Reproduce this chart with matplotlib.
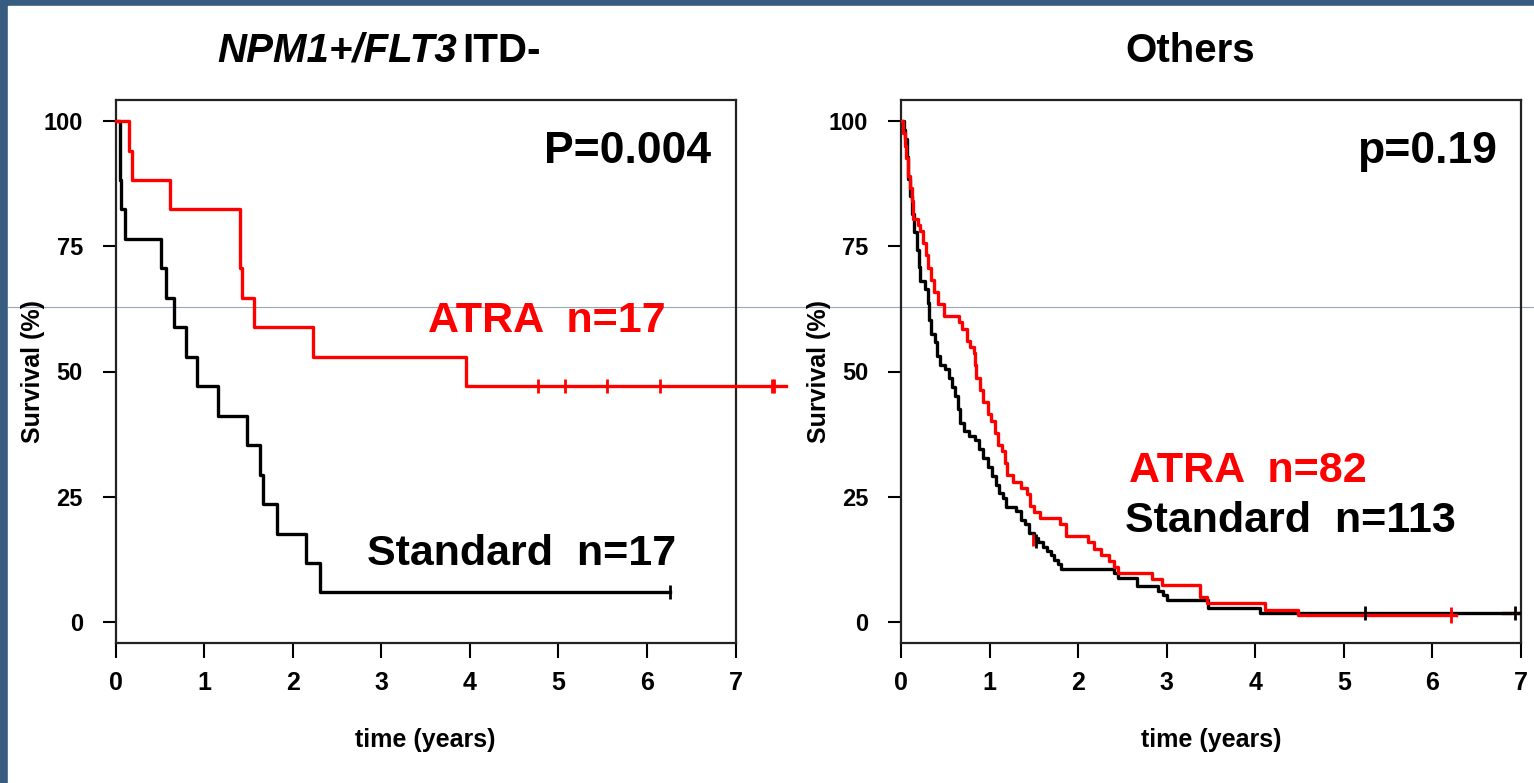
import matplotlib
matplotlib.use("Agg")
import matplotlib.pyplot as plt
from matplotlib.lines import Line2D
from matplotlib.patches import Rectangle

plt.rcParams["font.family"] = ["Liberation Sans", "DejaVu Sans"]

# ---- values ----
years = [0, 1, 2, 3, 4, 5, 6, 7]
surv_ticks = [0, 25, 50, 75, 100]

# NPM1+/FLT3 ITD- panel
npm_atra_t = [0.00, 0.15, 0.19, 0.62, 1.41, 1.43, 1.56, 2.23, 3.96, 7.57]
npm_atra_s = [100, 94.1, 88.2, 82.4, 70.6, 64.7, 58.8, 52.9, 47.1, 47.1]
npm_atra_cens_t = [4.77, 5.08, 5.55, 6.15, 7.41, 7.44]
npm_atra_cens_s = [47.1, 47.1, 47.1, 47.1, 47.1, 47.1]

npm_std_t = [0.00, 0.05, 0.06, 0.11, 0.51, 0.57, 0.66, 0.80, 0.92, 1.16,
             1.48, 1.63, 1.67, 1.82, 2.15, 2.31, 6.26]
npm_std_s = [100, 88.2, 82.4, 76.5, 70.6, 64.7, 58.8, 52.9, 47.1, 41.2,
             35.3, 29.4, 23.5, 17.6, 11.8, 5.9, 5.9]
npm_std_cens_t = [6.26]
npm_std_cens_s = [5.9]

# Others panel
oth_atra_t = [0.00, 0.02, 0.04, 0.06, 0.08, 0.10, 0.12, 0.14, 0.19, 0.22,
              0.25, 0.28, 0.31, 0.34, 0.37, 0.42, 0.48, 0.66, 0.69, 0.74,
              0.78, 0.82, 0.84, 0.85, 0.89, 0.93, 0.98, 1.02, 1.06, 1.10,
              1.14, 1.17, 1.20, 1.27, 1.35, 1.42, 1.46, 1.50, 1.57, 1.79,
              1.86, 2.11, 2.18, 2.26, 2.35, 2.41, 2.45, 2.83, 2.95, 3.38,
              3.45, 4.11, 4.48, 6.27]
oth_atra_s = [100, 97.6, 95.1, 92.7, 89.0, 86.6, 84.1, 80.5, 79.3, 78.0,
              75.6, 73.2, 70.7, 68.3, 65.9, 63.4, 61.0, 59.8, 58.5, 56.1,
              54.9, 53.7, 51.2, 48.8, 46.3, 43.9, 41.5, 40.2, 37.8, 35.4,
              34.1, 31.7, 29.3, 28.0, 26.8, 25.6, 23.2, 22.0, 20.7, 19.5,
              17.1, 15.9, 14.6, 13.4, 12.2, 11.0, 9.8, 8.5, 7.3, 4.9,
              3.7, 2.4, 1.4, 1.4]
oth_atra_cens_t = [1.49, 6.21]
oth_atra_cens_s = [16.4, 1.4]
oth_atra_tail_t = [6.80, 7.00]
oth_atra_tail_s = [1.7, 1.7]

oth_std_t = [0.00, 0.03, 0.05, 0.07, 0.08, 0.10, 0.12, 0.15, 0.18, 0.20,
             0.22, 0.27, 0.30, 0.32, 0.34, 0.38, 0.41, 0.44, 0.50, 0.54,
             0.58, 0.61, 0.64, 0.67, 0.71, 0.77, 0.84, 0.88, 0.93, 0.98,
             1.03, 1.07, 1.11, 1.15, 1.19, 1.30, 1.35, 1.40, 1.45, 1.50,
             1.55, 1.60, 1.65, 1.69, 1.73, 1.77, 1.81, 2.40, 2.45, 2.66,
             2.90, 2.96, 3.00, 3.47, 4.05, 7.00]
oth_std_s = [100, 98.2, 96.5, 92.9, 88.5, 85.0, 81.4, 77.9, 74.3, 70.8,
             68.1, 66.4, 63.7, 60.2, 57.5, 55.8, 53.1, 51.3, 50.4, 48.7,
             46.9, 45.1, 42.5, 39.8, 38.1, 37.2, 36.3, 34.5, 32.7, 31.0,
             29.2, 27.4, 25.7, 24.8, 23.0, 22.1, 20.4, 19.5, 17.7, 16.8,
             15.9, 15.0, 14.2, 13.3, 12.4, 11.5, 10.6, 9.7, 8.8, 7.1,
             6.2, 5.3, 4.4, 2.7, 1.8, 1.8]
oth_std_cens_t = [1.52, 5.24, 6.93]
oth_std_cens_s = [16.2, 1.8, 1.8]

RED = "#FF0000"
BLACK = "#000000"
BORDER = "#365D80"
W, H = 1534, 783


def style_axes(ax):
    ax.set_facecolor("none")
    ax.set_xlim(0, 7)
    ax.set_ylim(-4.2, 104.2)
    ax.set_xticks(years)
    ax.set_yticks(surv_ticks)
    ax.tick_params(axis="x", direction="out", length=10.5, width=1.5, pad=10, labelsize=18)
    ax.tick_params(axis="y", direction="out", length=9.5, width=1.5, pad=14, labelsize=17)
    for lab in ax.get_xticklabels() + ax.get_yticklabels():
        lab.set_fontweight("bold")
    for sp in ax.spines.values():
        sp.set_linewidth(1.6)
        sp.set_color("#222222")
    ax.set_xlabel("time (years)", fontsize=18, fontweight="bold")
    ax.xaxis.set_label_coords(0.5, -0.179)
    ax.xaxis.label.set_va("center")
    ax.set_ylabel("Survival (%)", fontsize=18, fontweight="bold")
    ax.yaxis.set_label_coords(-0.133, 0.5)
    ax.yaxis.label.set_va("center")


def km(ax, t, s, color, clip=True):
    ax.step(t, s, where="post", color=color, lw=2.4, clip_on=clip, zorder=3)


def cens(ax, t, s, color, ms=10):
    ax.plot(t, s, linestyle="none", marker="|", ms=ms, mew=2, color=color,
            clip_on=False, zorder=4)


fig = plt.figure(figsize=(W / 100, H / 100), dpi=100)
fig.patches.append(Rectangle((0, 0), 1, 1, transform=fig.transFigure,
                             color=BORDER, zorder=-3))
fig.patches.append(Rectangle((8 / W, 0), 1, 1 - 6 / H, transform=fig.transFigure,
                             color="white", zorder=-2))
fig.add_artist(Line2D([8 / W, 1], [1 - 307 / H] * 2, transform=fig.transFigure,
                      color="#9AA6B2", lw=0.8, zorder=-1))

bottom, height = (H - 643) / H, 543 / H
ax1 = fig.add_axes([115.5 / W, bottom, 620 / W, height])
ax2 = fig.add_axes([901 / W, bottom, 620 / W, height])

# left panel
style_axes(ax1)
km(ax1, npm_std_t, npm_std_s, BLACK)
cens(ax1, npm_std_cens_t, npm_std_cens_s, BLACK)
km(ax1, npm_atra_t, npm_atra_s, RED, clip=False)
cens(ax1, npm_atra_cens_t, npm_atra_cens_s, RED)
ax1.text(3.53, 57.9, "ATRA  n=17", color=RED, fontsize=31, fontweight="bold",
         ha="left", va="baseline")
ax1.text(2.84, 11.4, "Standard  n=17", color=BLACK, fontsize=31, fontweight="bold",
         ha="left", va="baseline")
ax1.text(6.73, 91.6, "P=0.004", color=BLACK, fontsize=32, fontweight="bold",
         ha="right", va="baseline")

# right panel
style_axes(ax2)
cens(ax2, oth_atra_cens_t[:1], oth_atra_cens_s[:1], RED, ms=8)
km(ax2, oth_std_t, oth_std_s, BLACK)
ax2.plot(oth_atra_tail_t, oth_atra_tail_s, color=RED, lw=2.4, zorder=2)
cens(ax2, oth_std_cens_t, oth_std_cens_s, BLACK)
km(ax2, oth_atra_t, oth_atra_s, RED)
cens(ax2, oth_atra_cens_t[1:], oth_atra_cens_s[1:], RED, ms=12)
ax2.text(2.57, 27.9, "ATRA  n=82", color=RED, fontsize=31, fontweight="bold",
         ha="left", va="baseline")
ax2.text(2.53, 18.0, "Standard  n=113", color=BLACK, fontsize=31, fontweight="bold",
         ha="left", va="baseline")
ax2.text(6.73, 91.6, "p=0.19", color=BLACK, fontsize=32, fontweight="bold",
         ha="right", va="baseline")

# panel titles
fig.text(217 / W, 1 - 62 / H, "NPM1+/FLT3", fontsize=29, fontweight="bold",
         fontstyle="italic", ha="left", va="baseline")
fig.text(462 / W, 1 - 62 / H, "ITD-", fontsize=29, fontweight="bold",
         ha="left", va="baseline")
fig.text(1190 / W, 1 - 62 / H, "Others", fontsize=29, fontweight="bold",
         ha="center", va="baseline")

plt.savefig("out.png", dpi=100)
plt.close()
